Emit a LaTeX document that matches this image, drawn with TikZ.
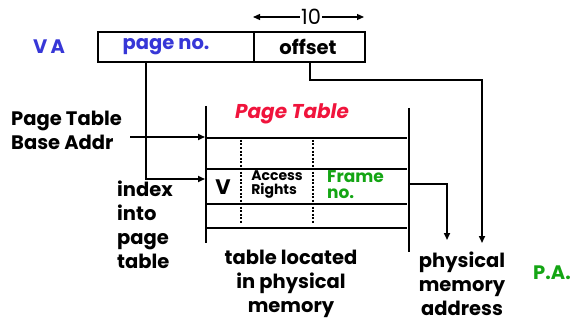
\documentclass[tikz,border=0pt]{standalone}
\usepackage{fontspec}
\setmainfont{Poppins}
\usetikzlibrary{arrows.meta}
\definecolor{vablue}{RGB}{55,55,215}
\definecolor{ptred}{RGB}{240,20,60}
\definecolor{fgreen}{RGB}{20,165,20}
\tikzset{
  lbl/.style={font=\fontsize{19.5}{24}\selectfont\bfseries, inner sep=0pt, align=center},
  small/.style={font=\fontsize{14}{17}\selectfont\bfseries, inner sep=0pt, align=left},
  wire/.style={line width=1.6pt},
  arr/.style={wire, -{Triangle[length=7pt,width=6pt]}},
  rule/.style={line width=1.8pt},
  sep/.style={line width=1.2pt, dash pattern=on 2pt off 1.5pt},
}
\begin{document}
\begin{tikzpicture}[x=1pt,y=-1pt]
\useasboundingbox (0,0) rectangle (577,323);

% virtual address register
\node[lbl, text=vablue] (va) at (49,47) {V\,A};
\node[draw, rule, minimum width=156pt, minimum height=30pt, inner sep=0pt,
      anchor=north west] (pn) at (97,31) {};
\node[draw, rule, minimum width=111pt, minimum height=30pt, inner sep=0pt,
      anchor=north west] (off) at (253,31) {};
\node[lbl, text=vablue] (pnt) at (166,47) {page no.};
\node[lbl] (offt) at (308,47) {offset};

% width of the offset field
\node[font=\fontsize{21}{22}\selectfont, inner sep=1pt] (ten) at (311,17) {10};
\coordinate (tenl) at (253,17);
\coordinate (tenr) at (364,17);
\draw[arr, line width=1.2pt] (ten.west) -- (tenl);
\draw[arr, line width=1.2pt] (ten.east) -- (tenr);

% page table
\coordinate (tl) at (206,106);
\coordinate (bl) at (206,243);
\coordinate (tr) at (409,108);
\coordinate (br) at (409,252);
\draw[rule] (tl) -- (bl);
\draw[rule] (tr) -- (br);
\foreach \y/\n in {138/r1,169/r2,204/r3,228/r4}{
  \coordinate (\n l) at (207,\y);
  \coordinate (\n r) at (407,\y);
  \draw[rule] (\n l) -- (\n r);
}
\coordinate (d1t) at (241,140); \coordinate (d1b) at (241,223);
\coordinate (d2t) at (313,140); \coordinate (d2b) at (313,223);
\draw[sep] (d1t) -- (d1b);
\draw[sep] (d2t) -- (d2b);

\node[lbl, text=ptred, font=\fontsize{20}{22}\selectfont\bfseries\itshape] (ptt) at (292,114) {Page Table};
\node[lbl, font=\fontsize{21}{22}\selectfont\bfseries] (v) at (223,187) {V};
\node[small] (acc) at (277,185) {Access\\[-3pt]Rights};
\node[lbl, text=fgreen, align=left, anchor=west, font=\fontsize{17}{16}\selectfont\bfseries] (fr) at (327,185) {Frame\\no.};

% base address into the table
\node[lbl, align=left, anchor=west] (pba) at (11,130) {Page Table\\Base Addr};
\coordinate (pbs) at (130,137);
\coordinate (pbe) at (205,137);
\draw[arr] (pbs) -- (pbe);

% page number indexes the table
\coordinate (pnb) at (146,62);
\coordinate (idx) at (205,179);
\draw[arr] (pnb) |- (idx);
\node[lbl, align=left, anchor=north west] (ix) at (117,181) {index\\into\\page\\table};

% frame number and offset form the physical address
\coordinate (frs) at (410,184);
\coordinate (fre) at (447,240);
\draw[arr] (frs) -| (fre);
\coordinate (ofs) at (310,62);
\coordinate (ofm) at (310,80);
\coordinate (ofe) at (482,243);
\draw[arr] (ofs) -- (ofm) -| (ofe);

\node[lbl] (tlm) at (291,284) {table located\\in physical\\memory};
\node[lbl] (pma) at (462,284) {physical\\memory\\address};
\node[lbl, text=fgreen] (pa) at (552,273) {P.A.};
\end{tikzpicture}
\end{document}
